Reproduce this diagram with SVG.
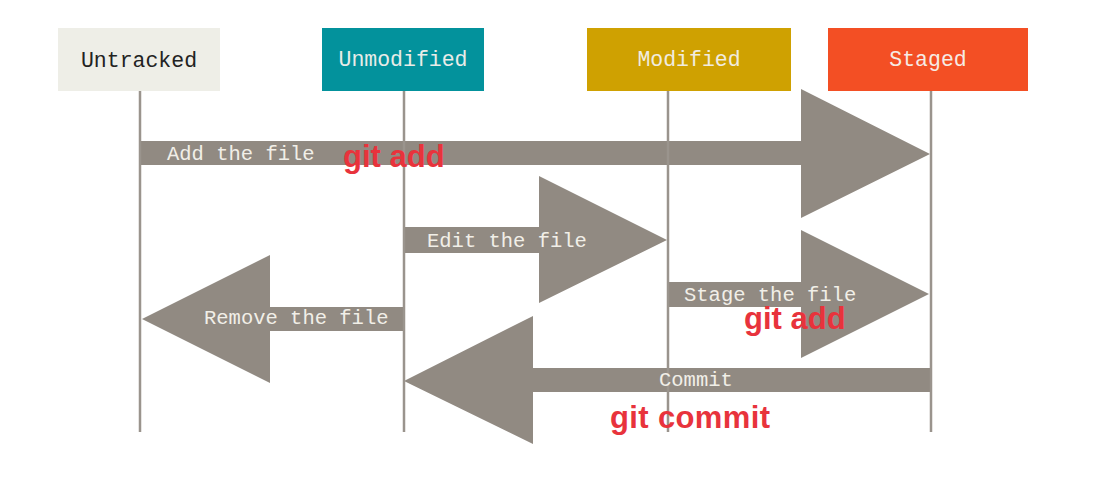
<svg xmlns="http://www.w3.org/2000/svg" width="1118" height="491" viewBox="0 0 1118 491">
<style>
.box-label{font-family:"Liberation Mono","DejaVu Sans Mono",monospace;font-size:21.5px;text-anchor:middle}
.arrow{fill:#918a82}
.life{stroke:#9a948d;stroke-width:2.5;fill:none}
.alabel{font-family:"Liberation Mono","DejaVu Sans Mono",monospace;font-size:20.5px;fill:#f1efe8}
.cmd{font-family:"Liberation Sans","Noto Sans",sans-serif;font-weight:bold;font-size:31px;fill:#e8333c}
</style>
<rect width="1118" height="491" fill="#ffffff"/>
<g id="connectors">
<polygon class="arrow" points="140,141 801,141 801,89 930,154 801,218 801,165 140,165"/>
<polygon class="arrow" points="404,227 539,227 539,176 667,240 539,303 539,253 404,253"/>
<polygon class="arrow" points="668,282 801,282 801,230 929,294 801,358 801,307 668,307"/>
<polygon class="arrow" points="404,307 270,307 270,255 142,319 270,383 270,331 404,331"/>
<polygon class="arrow" points="931,368 533,368 533,316 404,381 533,444 533,392 931,392"/>
<line class="life" x1="140" y1="91" x2="140" y2="432"/>
<line class="life" x1="404" y1="91" x2="404" y2="432"/>
<line class="life" x1="668" y1="91" x2="668" y2="432"/>
<line class="life" x1="931" y1="91" x2="931" y2="432"/>
<text class="alabel" x="167" y="160">Add the file</text>
<text class="alabel" x="427" y="247">Edit the file</text>
<text class="alabel" x="684" y="301">Stage the file</text>
<text class="alabel" x="204" y="324">Remove the file</text>
<text class="alabel" x="659" y="386">Commit</text>
<text class="cmd" x="343" y="167">git add</text>
<text class="cmd" x="744" y="329">git add</text>
<text class="cmd" x="610" y="428" textLength="160">git commit</text>
</g>
<g id="untracked">
<rect x="58" y="28" width="162" height="63" fill="#eeeee7"/>
<text class="box-label" x="139" y="67" fill="#222222">Untracked</text>
</g>
<g id="unmodified">
<rect x="322" y="28" width="162" height="63" fill="#03929c"/>
<text class="box-label" x="403" y="66" fill="#e9ece8">Unmodified</text>
</g>
<g id="modified">
<rect x="587" y="28" width="204" height="63" fill="#cfa101"/>
<text class="box-label" x="689" y="66" fill="#f1ece0">Modified</text>
</g>
<g id="staged">
<rect x="828" y="28" width="200" height="63" fill="#f34f24"/>
<text class="box-label" x="928" y="66" fill="#f6ebe4">Staged</text>
</g>
</svg>
